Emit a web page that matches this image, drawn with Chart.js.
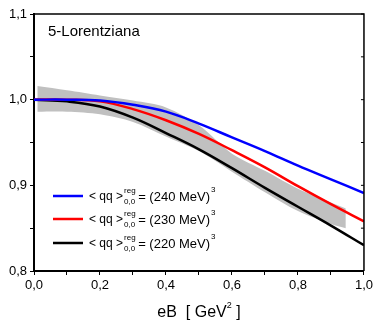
<!DOCTYPE html>
<html>
<head>
<meta charset="utf-8">
<script src="https://cdn.jsdelivr.net/npm/chart.js@4"></script>
<style>
  html, body { margin: 0; padding: 0; background: #fff; }
  #wrap { width: 376px; height: 321px; }
</style>
</head>
<body>
<div id="wrap"><canvas id="chart" width="376" height="321"></canvas></div>
<script>
// curves: x in GeV^2, condensate ratio
const eB = [0, 0.1, 0.2, 0.3, 0.4, 0.5, 0.6, 0.7, 0.8, 0.9, 1.0];
const ratio240 = [1.000, 1.000, 0.999, 0.994, 0.986, 0.972, 0.956, 0.940, 0.923, 0.907, 0.891];
const ratio230 = [1.000, 1.000, 0.998, 0.989, 0.976, 0.960, 0.941, 0.921, 0.899, 0.878, 0.858];
const ratio220 = [1.000, 0.998, 0.992, 0.979, 0.961, 0.942, 0.920, 0.897, 0.875, 0.853, 0.830];

// lattice band
const bandX = [0.01, 0.1, 0.2, 0.3, 0.4, 0.5, 0.6, 0.7, 0.8, 0.9, 0.945];
const bandUpper = [1.016, 1.011, 1.005, 0.999, 0.991, 0.970, 0.937, 0.917, 0.896, 0.880, 0.873];
const bandLower = [0.986, 0.986, 0.983, 0.974, 0.957, 0.940, 0.916, 0.892, 0.870, 0.855, 0.850];

const legendValues = ["240", "230", "220"];
const FONT = "'Liberation Sans', Arial, sans-serif";

const pts = (xs, ys) => xs.map((x, i) => ({ x: x, y: ys[i] }));
const fmt = (v) => v.toFixed(1).replace(".", ",");

function curve(label, data, color, order) {
  return {
    label: label,
    data: pts(eB, data),
    borderColor: color,
    borderWidth: 2.5,
    pointRadius: 0,
    fill: false,
    tension: 0.4,
    order: order,
  };
}

// frame, right ticks, title, x title and legend
const decor = {
  id: "decor",
  afterDraw(chart) {
    const ctx = chart.ctx;
    const a = chart.chartArea;
    const ys = chart.scales.y;
    ctx.save();
    ctx.strokeStyle = "#000";
    ctx.lineWidth = 1.5;
    ctx.beginPath();
    ctx.moveTo(a.left, a.top);
    ctx.lineTo(a.right, a.top);
    ctx.lineTo(a.right, a.bottom);
    ctx.stroke();
    ctx.lineWidth = 1;
    ys.ticks.forEach((t) => {
      const py = ys.getPixelForValue(t.value);
      ctx.beginPath();
      ctx.moveTo(a.right, py);
      ctx.lineTo(a.right - 3, py);
      ctx.stroke();
    });

    ctx.fillStyle = "#000";
    ctx.textBaseline = "middle";
    ctx.textAlign = "left";
    ctx.font = "15px " + FONT;
    ctx.fillText("5-Lorentziana", 48, 32);

    // x axis title with superscript
    ctx.font = "16px " + FONT;
    const p1 = "eB  [ GeV";
    const w1 = ctx.measureText(p1).width;
    ctx.font = "9px " + FONT;
    const w2 = ctx.measureText("2").width;
    ctx.font = "16px " + FONT;
    const w3 = ctx.measureText(" ]").width;
    let x0 = (a.left + a.right) / 2 - (w1 + w2 + w3) / 2;
    ctx.fillText(p1, x0, 313);
    ctx.font = "9px " + FONT;
    ctx.fillText("2", x0 + w1, 306);
    ctx.font = "16px " + FONT;
    ctx.fillText(" ]", x0 + w1 + w2, 313);

    // legend
    const colors = ["#0000ff", "#ff0000", "#000000"];
    const rows = [196, 219, 243];
    rows.forEach((ry, i) => {
      ctx.strokeStyle = colors[i];
      ctx.lineWidth = 2.5;
      ctx.beginPath();
      ctx.moveTo(53, ry);
      ctx.lineTo(83, ry);
      ctx.stroke();
      let x = 89;
      ctx.font = "12px " + FONT;
      ctx.fillText("< qq >", x, ry + 1);
      x += ctx.measureText("< qq >").width + 1;
      ctx.font = "8px " + FONT;
      ctx.fillText("reg", x, ry - 5);
      ctx.fillText("0,0", x, ry + 6);
      x += ctx.measureText("0,0").width + 3;
      ctx.font = "13px " + FONT;
      const t = "= (" + legendValues[i] + " MeV)";
      ctx.fillText(t, x, ry + 1);
      x += ctx.measureText(t).width;
      ctx.font = "8px " + FONT;
      ctx.fillText("3", x + 1, ry - 6);
    });
    ctx.restore();
  },
};

new Chart(document.getElementById("chart"), {
  type: "line",
  data: {
    datasets: [
      curve("240", ratio240, "#0000ff", 1),
      curve("230", ratio230, "#ff0000", 2),
      curve("220", ratio220, "#000000", 3),
      {
        label: "band upper",
        data: pts(bandX, bandUpper),
        borderWidth: 0,
        borderColor: "rgba(0,0,0,0)",
        backgroundColor: "#c0c0c0",
        pointRadius: 0,
        fill: "+1",
        tension: 0.3,
        order: 5,
      },
      {
        label: "band lower",
        data: pts(bandX, bandLower),
        borderWidth: 0,
        borderColor: "rgba(0,0,0,0)",
        pointRadius: 0,
        fill: false,
        tension: 0.3,
        order: 6,
      },
    ],
  },
  options: {
    responsive: false,
    animation: false,
    layout: { padding: { top: 14, right: 11, left: 0, bottom: 0 } },
    plugins: { legend: { display: false }, tooltip: { enabled: false } },
    scales: {
      x: {
        type: "linear",
        min: 0,
        max: 1.0,
        border: { display: true, width: 2, color: "#000" },
        grid: { drawOnChartArea: false, drawTicks: true, tickLength: 4, color: "#000" },
        ticks: {
          stepSize: 0.1,
          padding: 3,
          color: "#000",
          font: { size: 13, family: FONT },
          maxRotation: 0,
          autoSkip: false,
          callback: (v) => (Math.round(v * 10) % 2 === 0 ? fmt(v) : ""),
        },
        afterFit: (s) => { s.height = 50; },
      },
      y: {
        min: 0.8,
        max: 1.1,
        border: { display: true, width: 2, color: "#000" },
        grid: { drawOnChartArea: false, drawTicks: true, tickLength: 4, color: "#000" },
        ticks: {
          stepSize: 0.05,
          padding: 3,
          color: "#000",
          font: { size: 13, family: FONT },
          autoSkip: false,
          callback: (v) => (Math.round(v * 100) % 10 === 0 ? fmt(v) : ""),
        },
        afterFit: (s) => { s.width = 34; },
      },
    },
  },
  plugins: [decor],
});
</script>
</body>
</html>
